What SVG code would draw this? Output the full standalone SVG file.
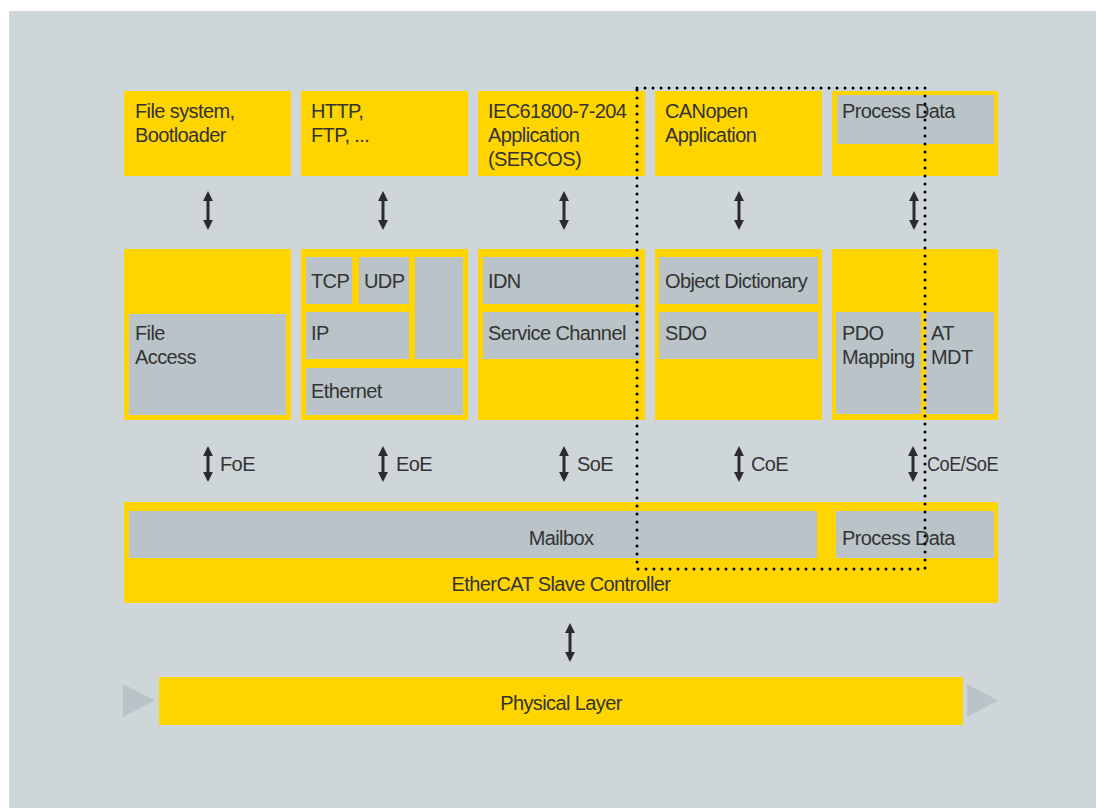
<svg xmlns="http://www.w3.org/2000/svg" width="1096" height="808" viewBox="0 0 1096 808">
<defs>
<style>
.y{fill:#ffd500}
.g{fill:#b9c3c8}
.t{font-family:"Liberation Sans",Arial,sans-serif;font-size:20px;fill:#333333;letter-spacing:-0.6px}
.m{text-anchor:middle}
.ar{stroke:#2b2b2b;stroke-width:3;fill:none;marker-start:url(#ah);marker-end:url(#ah)}
</style>
<marker id="ah" viewBox="0 0 10 10" refX="2" refY="5" markerWidth="3.3" markerHeight="3.3" orient="auto-start-reverse" markerUnits="strokeWidth">
<path d="M0,0 L10,5 L0,10 Z" fill="#2b2b2b"/>
</marker>
</defs>
<rect x="0" y="0" width="1096" height="808" fill="#ffffff"/>
<rect x="9" y="11" width="1087" height="797" fill="#cfd6d9"/>

<g id="file-system">
<rect class="y" x="124" y="91" width="167" height="85"/>
<text class="t" x="135" y="118">File system,</text>
<text class="t" x="135" y="142">Bootloader</text>
</g>
<g id="http">
<rect class="y" x="301" y="91" width="167" height="85"/>
<text class="t" x="311" y="118">HTTP,</text>
<text class="t" x="311" y="142">FTP, ...</text>
</g>
<g id="iec">
<rect class="y" x="478" y="91" width="167" height="85"/>
<text class="t" x="488" y="118">IEC61800-7-204</text>
<text class="t" x="488" y="142">Application</text>
<text class="t" x="488" y="166">(SERCOS)</text>
</g>
<g id="canopen">
<rect class="y" x="655" y="91" width="167" height="85"/>
<text class="t" x="665" y="118">CANopen</text>
<text class="t" x="665" y="142">Application</text>
</g>
<g id="process-data-top">
<rect class="y" x="832" y="91" width="166" height="85"/>
<rect class="g" x="837" y="95" width="157" height="49"/>
<text class="t" x="842" y="118">Process Data</text>
</g>

<g id="file-access">
<rect class="y" x="124" y="249" width="167" height="171"/>
<rect class="g" x="129" y="314" width="157" height="101"/>
<text class="t" x="135" y="340">File</text>
<text class="t" x="135" y="364">Access</text>
</g>
<g id="tcpip">
<rect class="y" x="301" y="249" width="167" height="171"/>
<rect class="g" x="306" y="257" width="46" height="47"/>
<rect class="g" x="359" y="257" width="50" height="47"/>
<rect class="g" x="415" y="257" width="48" height="102"/>
<rect class="g" x="306" y="312" width="103" height="47"/>
<rect class="g" x="306" y="368" width="157" height="47"/>
<text class="t" x="311" y="288">TCP</text>
<text class="t" x="364" y="288">UDP</text>
<text class="t" x="311" y="340">IP</text>
<text class="t" x="311" y="398">Ethernet</text>
</g>
<g id="sercos-mid">
<rect class="y" x="478" y="249" width="167" height="171"/>
<rect class="g" x="483" y="257" width="157" height="47"/>
<rect class="g" x="483" y="312" width="157" height="47"/>
<text class="t" x="488" y="288">IDN</text>
<text class="t" x="488" y="340">Service Channel</text>
</g>
<g id="canopen-mid">
<rect class="y" x="655" y="249" width="167" height="171"/>
<rect class="g" x="659" y="257" width="159" height="47"/>
<rect class="g" x="659" y="312" width="159" height="47"/>
<text class="t" x="665" y="288">Object Dictionary</text>
<text class="t" x="665" y="340">SDO</text>
</g>
<g id="pdo-mid">
<rect class="y" x="832" y="249" width="166" height="171"/>
<rect class="g" x="836" y="312" width="85" height="102"/>
<rect class="g" x="926" y="312" width="68" height="102"/>
<text class="t" x="842" y="340">PDO</text>
<text class="t" x="842" y="364">Mapping</text>
<text class="t" x="931" y="340">AT</text>
<text class="t" x="931" y="364">MDT</text>
</g>

<g id="esc">
<rect class="y" x="124" y="502" width="874" height="101"/>
<rect class="g" x="129" y="511" width="688" height="47"/>
<rect class="g" x="836" y="511" width="158" height="47"/>
<text class="t m" x="561" y="545">Mailbox</text>
<text class="t" x="842" y="545">Process Data</text>
<text class="t m" x="561" y="591">EtherCAT Slave Controller</text>
</g>

<g id="physical-layer">
<rect class="y" x="159" y="677" width="804" height="48"/>
<polygon class="g" points="123,684 155,700.5 123,717"/>
<polygon class="g" points="967,684 998,700.5 967,717"/>
<text class="t m" x="561" y="710">Physical Layer</text>
</g>

<g id="connectors">
<line class="ar" x1="208" y1="199" x2="208" y2="222"/>
<line class="ar" x1="383" y1="199" x2="383" y2="222"/>
<line class="ar" x1="564" y1="199" x2="564" y2="222"/>
<line class="ar" x1="739" y1="199" x2="739" y2="222"/>
<line class="ar" x1="914" y1="199" x2="914" y2="222"/>
<line class="ar" x1="208" y1="454" x2="208" y2="474"/>
<line class="ar" x1="383" y1="454" x2="383" y2="474"/>
<line class="ar" x1="564" y1="454" x2="564" y2="474"/>
<line class="ar" x1="739" y1="454" x2="739" y2="474"/>
<line class="ar" x1="913" y1="454" x2="913" y2="474"/>
<line class="ar" x1="570" y1="631" x2="570" y2="654"/>
<text class="t" x="220" y="471">FoE</text>
<text class="t" x="396" y="471">EoE</text>
<text class="t" x="577" y="471">SoE</text>
<text class="t" x="751" y="471">CoE</text>
<text class="t" x="927" y="471" textLength="71" lengthAdjust="spacingAndGlyphs">CoE/SoE</text>
</g>

<g id="highlight">
<rect x="637" y="88" width="288" height="481" fill="none" stroke="#000" stroke-width="3" stroke-linecap="round" stroke-dasharray="0 8"/>
</g>
</svg>
